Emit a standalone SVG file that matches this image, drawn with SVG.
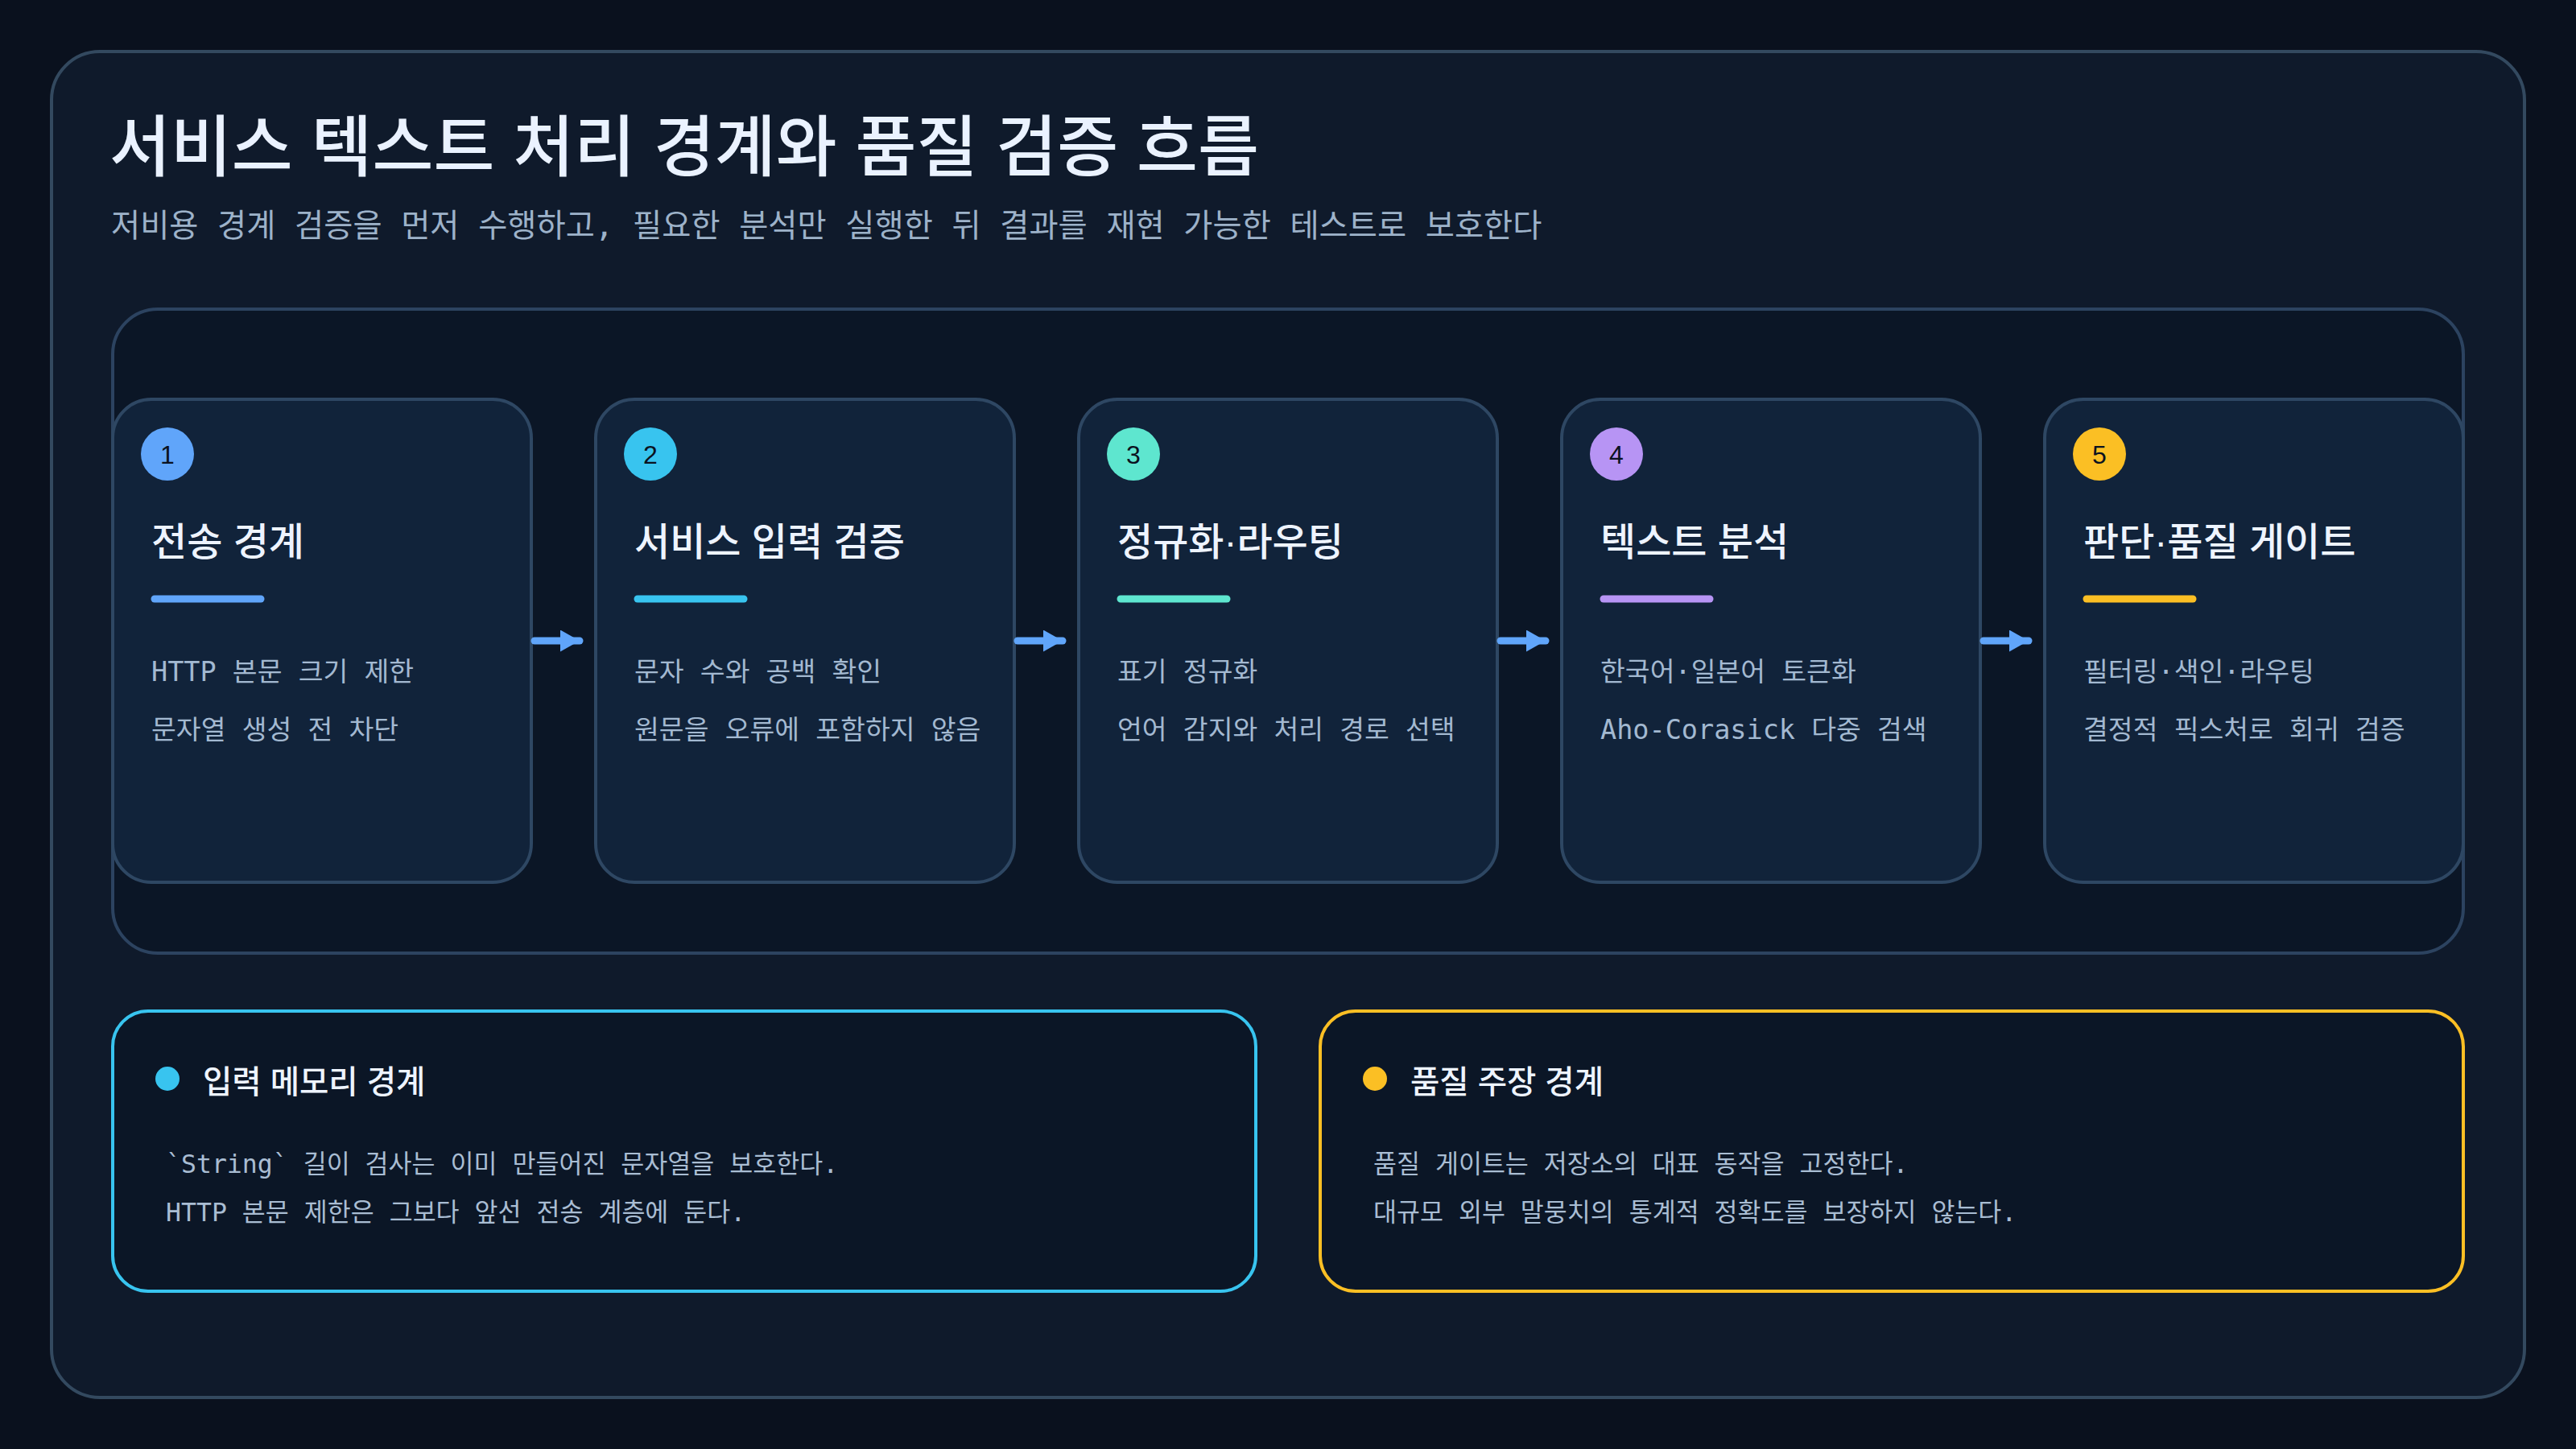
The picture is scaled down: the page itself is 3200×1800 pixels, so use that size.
<svg xmlns="http://www.w3.org/2000/svg" width="3200" height="1800" viewBox="0 0 3200 1800">
  <style>
    .sans { font-family: "Liberation Sans", "Noto Sans CJK KR", sans-serif; }
    .mono { font-family: "DejaVu Sans Mono", "Noto Sans CJK KR", monospace; }
    .title { font-size: 82.5px; fill: #eaf2ff; font-weight: 500; }
    .subtitle { font-size: 39.3px; fill: #9db2c9; }
    .card { fill: #11233a; stroke: #2e4763; stroke-width: 4; }
    .ctitle { font-size: 48px; fill: #eef4ff; font-weight: 500; }
    .cbody { font-size: 33.5px; fill: #a3b9d1; }
    .badge-t { font-size: 32px; fill: #0b1220; text-anchor: middle; }
    .btitle { font-size: 39.5px; fill: #eef4ff; font-weight: 500; }
    .bbody { font-size: 31.5px; fill: #a9bdd3; }
    .conn { stroke: #60a5fa; stroke-width: 9; stroke-linecap: round; fill: none; }
  </style>
  <defs>
    <marker id="arrow" markerUnits="userSpaceOnUse" markerWidth="30" markerHeight="30" refX="24" refY="13.5" orient="auto">
      <path d="M0,0 L24,13.5 L0,27 Z" fill="#60a5fa"/>
    </marker>
  </defs>

  <rect x="0" y="0" width="3200" height="1800" fill="#0a111e"/>

  <g id="panel">
    <rect x="64" y="64" width="3072" height="1672" rx="60" fill="#0f1a2b" stroke="#33495f" stroke-width="4"/>
    <text class="sans title" x="136" y="212">서비스 텍스트 처리 경계와 품질 검증 흐름</text>
    <text class="mono subtitle" x="138" y="294">저비용 경계 검증을 먼저 수행하고, 필요한 분석만 실행한 뒤 결과를 재현 가능한 테스트로 보호한다</text>
  </g>

  <g id="flow">
    <rect x="140" y="384" width="2920" height="800" rx="56" fill="#0b1626" stroke="#2c4360" stroke-width="4"/>
  </g>

  <g id="step1">
    <rect class="card" x="140" y="496" width="520" height="600" rx="48"/>
    <circle cx="208" cy="564" r="33" fill="#60a5fa"/>
    <text class="sans badge-t" x="208" y="576">1</text>
    <text class="sans ctitle" x="188" y="690">전송 경계</text>
    <line x1="192" y1="744" x2="324" y2="744" stroke="#60a5fa" stroke-width="9" stroke-linecap="round"/>
    <text class="mono cbody" x="188" y="846">HTTP 본문 크기 제한</text>
    <text class="mono cbody" x="188" y="918">문자열 생성 전 차단</text>
  </g>

  <g id="step2">
    <rect class="card" x="740" y="496" width="520" height="600" rx="48"/>
    <circle cx="808" cy="564" r="33" fill="#38c4ef"/>
    <text class="sans badge-t" x="808" y="576">2</text>
    <text class="sans ctitle" x="788" y="690">서비스 입력 검증</text>
    <line x1="792" y1="744" x2="924" y2="744" stroke="#38c4ef" stroke-width="9" stroke-linecap="round"/>
    <text class="mono cbody" x="788" y="846">문자 수와 공백 확인</text>
    <text class="mono cbody" x="788" y="918">원문을 오류에 포함하지 않음</text>
  </g>

  <g id="step3">
    <rect class="card" x="1340" y="496" width="520" height="600" rx="48"/>
    <circle cx="1408" cy="564" r="33" fill="#5ee6cf"/>
    <text class="sans badge-t" x="1408" y="576">3</text>
    <text class="sans ctitle" x="1388" y="690">정규화·라우팅</text>
    <line x1="1392" y1="744" x2="1524" y2="744" stroke="#5ee6cf" stroke-width="9" stroke-linecap="round"/>
    <text class="mono cbody" x="1388" y="846">표기 정규화</text>
    <text class="mono cbody" x="1388" y="918">언어 감지와 처리 경로 선택</text>
  </g>

  <g id="step4">
    <rect class="card" x="1940" y="496" width="520" height="600" rx="48"/>
    <circle cx="2008" cy="564" r="33" fill="#b794f4"/>
    <text class="sans badge-t" x="2008" y="576">4</text>
    <text class="sans ctitle" x="1988" y="690">텍스트 분석</text>
    <line x1="1992" y1="744" x2="2124" y2="744" stroke="#b794f4" stroke-width="9" stroke-linecap="round"/>
    <text class="mono cbody" x="1988" y="846">한국어·일본어 토큰화</text>
    <text class="mono cbody" x="1988" y="918">Aho-Corasick 다중 검색</text>
  </g>

  <g id="step5">
    <rect class="card" x="2540" y="496" width="520" height="600" rx="48"/>
    <circle cx="2608" cy="564" r="33" fill="#fbbf24"/>
    <text class="sans badge-t" x="2608" y="576">5</text>
    <text class="sans ctitle" x="2588" y="690">판단·품질 게이트</text>
    <line x1="2592" y1="744" x2="2724" y2="744" stroke="#fbbf24" stroke-width="9" stroke-linecap="round"/>
    <text class="mono cbody" x="2588" y="846">필터링·색인·라우팅</text>
    <text class="mono cbody" x="2588" y="918">결정적 픽스처로 회귀 검증</text>
  </g>

  <g id="connectors">
    <line class="conn" x1="664" y1="796" x2="720" y2="796" marker-end="url(#arrow)"/>
    <line class="conn" x1="1264" y1="796" x2="1320" y2="796" marker-end="url(#arrow)"/>
    <line class="conn" x1="1864" y1="796" x2="1920" y2="796" marker-end="url(#arrow)"/>
    <line class="conn" x1="2464" y1="796" x2="2520" y2="796" marker-end="url(#arrow)"/>
  </g>

  <g id="note-memory">
    <rect x="140" y="1256" width="1420" height="348" rx="44" fill="#0b1626" stroke="#38c4ef" stroke-width="4"/>
    <circle cx="208" cy="1340" r="15" fill="#38c4ef"/>
    <text class="sans btitle" x="252" y="1358">입력 메모리 경계</text>
    <text class="mono bbody" x="206" y="1457">`String` 길이 검사는 이미 만들어진 문자열을 보호한다.</text>
    <text class="mono bbody" x="206" y="1517">HTTP 본문 제한은 그보다 앞선 전송 계층에 둔다.</text>
  </g>

  <g id="note-quality">
    <rect x="1640" y="1256" width="1420" height="348" rx="44" fill="#0b1626" stroke="#fbbf24" stroke-width="4"/>
    <circle cx="1708" cy="1340" r="15" fill="#fbbf24"/>
    <text class="sans btitle" x="1752" y="1358">품질 주장 경계</text>
    <text class="mono bbody" x="1706" y="1457">품질 게이트는 저장소의 대표 동작을 고정한다.</text>
    <text class="mono bbody" x="1706" y="1517">대규모 외부 말뭉치의 통계적 정확도를 보장하지 않는다.</text>
  </g>
</svg>
